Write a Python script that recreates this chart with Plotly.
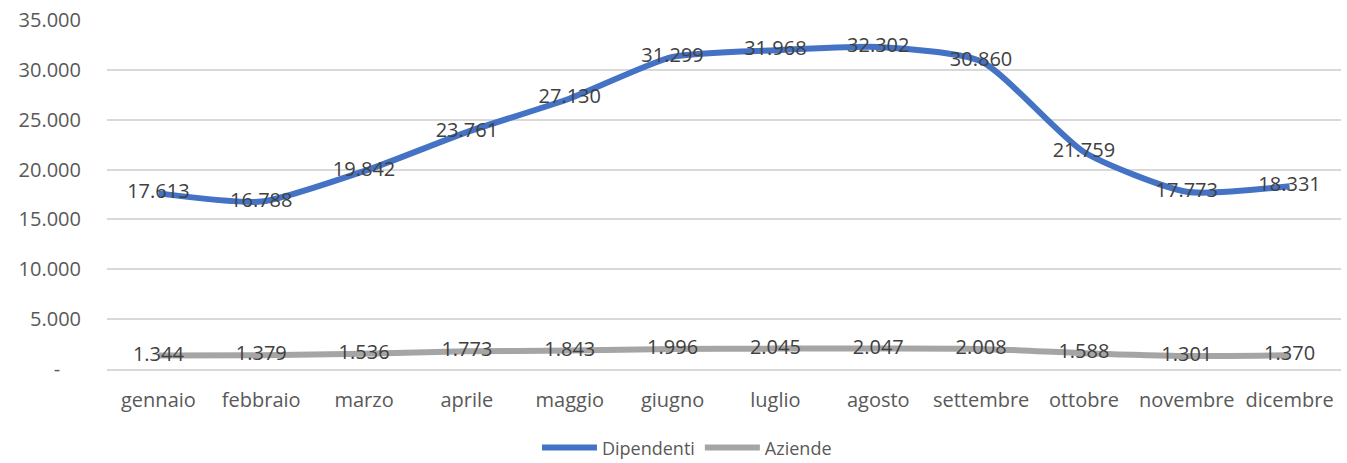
import plotly.graph_objects as go

mesi = ["gennaio", "febbraio", "marzo", "aprile", "maggio", "giugno", "luglio",
        "agosto", "settembre", "ottobre", "novembre", "dicembre"]
dipendenti = [17613, 16788, 19842, 23761, 27130, 31299, 31968, 32302, 30860, 21759, 17773, 18331]
aziende = [1344, 1379, 1536, 1773, 1843, 1996, 2045, 2047, 2008, 1588, 1301, 1370]
y_ticks = [0, 5000, 10000, 15000, 20000, 25000, 30000, 35000]
y_ticktext = ["-    ", "5.000", "10.000", "15.000", "20.000", "25.000", "30.000", "35.000"]

def fmt(v):
    return f"{v:,}".replace(",", ".")

FONT = "Open Sans"
FS = 20
fig = go.Figure()
for name, vals, col in [("Dipendenti", dipendenti, "#4472C4"), ("Aziende", aziende, "#A5A5A5")]:
    fig.add_trace(go.Scatter(
        x=mesi, y=vals, name=name, mode="lines+text",
        line=dict(color=col, width=6, shape="spline", smoothing=0.6),
        text=[fmt(v) for v in vals], textposition="middle center",
        textfont=dict(family=FONT, size=FS, color="#404040"),
    ))

fig.update_layout(
    width=1347, height=463,
    margin=dict(l=107, r=6, t=20, b=94, autoexpand=False),
    paper_bgcolor="white", plot_bgcolor="white",
    showlegend=True,
    legend=dict(orientation="h", x=0.47, xanchor="center", y=-0.226, yanchor="middle",
                font=dict(family=FONT, size=18, color="#595959"),
                itemwidth=55, tracegroupgap=0),
    font=dict(family=FONT, size=FS, color="#595959"),
)
fig.update_xaxes(showgrid=False, showline=True, linecolor="#D9D9D9", linewidth=1.5,
                 ticks="", tickfont=dict(family=FONT, size=FS, color="#595959"),
                 range=[-0.5, 11.5], ticklabelstandoff=12)
fig.update_yaxes(range=[0, 35000], tickvals=y_ticks, ticktext=y_ticktext,
                 showgrid=True, gridcolor="#D9D9D9", gridwidth=1.5, zeroline=False,
                 tickfont=dict(family=FONT, size=FS, color="#595959"),
                 ticklabelstandoff=25, ticklabeloverflow="allow")

fig.write_html(
    "out.html",
    config={"displayModeBar": False},
    post_script="document.body.style.margin='0';document.body.style.overflow='hidden';",
)
